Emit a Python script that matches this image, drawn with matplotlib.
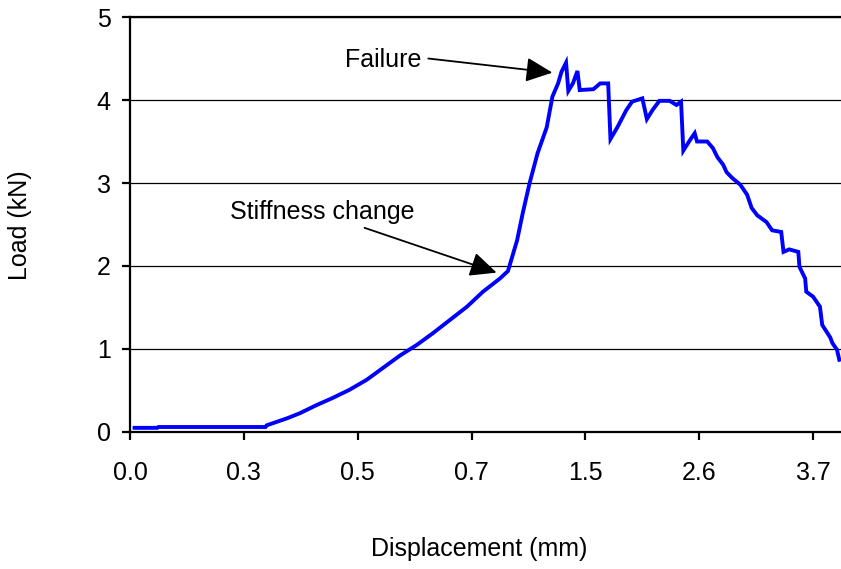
import matplotlib
matplotlib.use("Agg")
import matplotlib.pyplot as plt

plt.rcParams['font.family'] = ['Liberation Sans', 'DejaVu Sans']

# reading number of the logger (one tick every 100 readings) and load in kN
reading = [4, 24, 25, 119, 120, 138, 149, 164, 178, 193, 208, 222, 237, 252,
           266, 281, 296, 310, 325, 332,
           340, 345, 351, 358, 366, 371, 376, 379, 383, 385, 389, 393, 395,
           407, 413, 420, 422, 428, 436, 441, 450, 454, 459, 465, 474, 480,
           484, 486, 492, 496, 498, 507, 512, 516, 521, 524, 529, 536, 542,
           546, 551, 559, 564, 572, 574, 579, 587, 588, 593, 594, 600, 606,
           608, 615, 617, 621, 623]
load = [0.05, 0.05, 0.06, 0.06, 0.08, 0.165, 0.225, 0.325, 0.41, 0.51, 0.63,
        0.77, 0.92, 1.05, 1.19, 1.35, 1.51, 1.69, 1.85, 1.94,
        2.31, 2.64, 3.00, 3.36, 3.67, 4.04, 4.20, 4.34,
        4.45, 4.11, 4.20, 4.35, 4.12, 4.13, 4.20, 4.20, 3.53, 3.67, 3.88,
        3.98, 4.02, 3.77, 3.88, 3.99, 3.99, 3.94, 3.98, 3.39, 3.52, 3.60,
        3.50, 3.50, 3.42, 3.31, 3.22, 3.13, 3.06, 2.98, 2.86,
        2.70, 2.61, 2.53, 2.43, 2.41, 2.17, 2.20, 2.17, 1.99, 1.85, 1.69,
        1.63, 1.51, 1.29, 1.14, 1.07, 0.99, 0.87]

# displacement shown under every 100th reading
tick_reading = [0, 100, 200, 300, 400, 500, 600]
tick_disp = ['0.0', '0.3', '0.5', '0.7', '1.5', '2.6', '3.7']

fig = plt.figure(figsize=(8.41, 5.69), dpi=100)
ax = fig.add_axes([0.1546, 0.2408, 0.8454, 0.7293])

ax.plot(reading, load, color='#0000ff', lw=2.8, solid_joinstyle='miter')

ax.set_xlim(0, 624.5)
ax.set_ylim(0, 5)
ax.set_xticks(tick_reading)
ax.set_xticklabels(tick_disp)
ax.set_yticks(range(6))
ax.yaxis.grid(True, color='black', lw=0.9)
ax.set_axisbelow(True)

ax.spines['right'].set_visible(False)
for s in ['left', 'bottom', 'top']:
    ax.spines[s].set_linewidth(1.6)
ax.tick_params(axis='both', direction='out', length=6, width=1.6,
               labelsize=18)
ax.tick_params(axis='x', pad=15)
ax.tick_params(axis='y', pad=8)

fig.text(20 / 841, 1 - 225 / 569, 'Load (kN)', rotation=90,
         ha='center', va='center', fontsize=18)
fig.text(479 / 841, 1 - 549 / 569, 'Displacement (mm)',
         ha='center', va='center', fontsize=18)

arrow = dict(arrowstyle='-|>,head_length=0.65,head_width=0.3',
             mutation_scale=25, color='black', lw=1.3, shrinkA=0, shrinkB=0)

ax.text(222, 4.48, 'Failure', ha='center', va='center', fontsize=18)
ax.annotate('', xy=(371, 4.33), xytext=(262, 4.5), arrowprops=arrow)

ax.text(169, 2.65, 'Stiffness change', ha='center', va='center',
        fontsize=18)
ax.annotate('', xy=(322, 1.92), xytext=(206, 2.46), arrowprops=arrow)

fig.savefig('out.png', dpi=100)
